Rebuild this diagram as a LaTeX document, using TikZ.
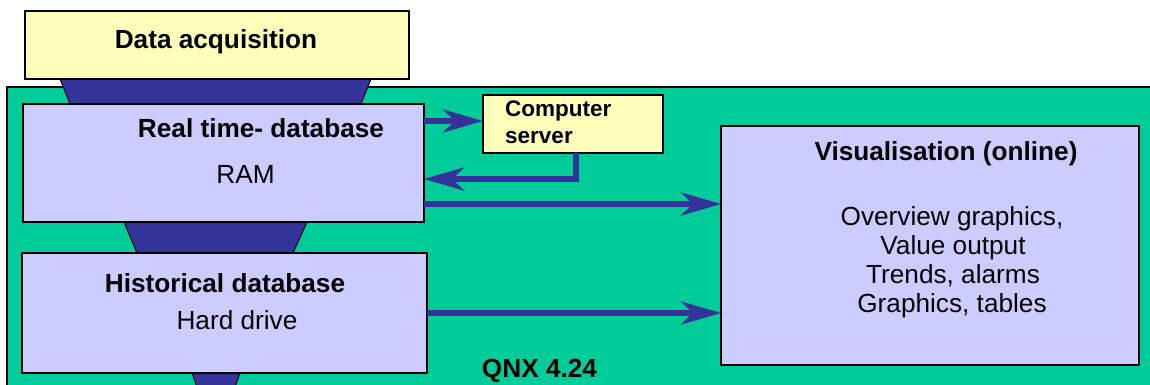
\documentclass[tikz,border=0pt]{standalone}
\usepackage{fontspec}
\setmainfont{Liberation Sans}
\usetikzlibrary{arrows.meta,calc}
\definecolor{qgreen}{HTML}{00CC99}
\definecolor{dblue}{HTML}{333399}
\definecolor{lpurple}{HTML}{CCCCFF}
\definecolor{lyellow}{HTML}{FFFFBB}
\begin{document}
\begin{tikzpicture}[x=1pt,y=-1pt,
  box/.style={draw=black, line width=1.2pt, fill=lpurple, rectangle, inner sep=0pt, outer sep=0pt},
  ybox/.style={draw=black, line width=1.2pt, fill=lyellow, rectangle, inner sep=0pt, outer sep=0pt},
  funnel/.style={fill=dblue, draw=black, line width=1pt},
  arr/.style={draw=dblue, line width=6pt, -{Stealth[length=40pt,width=23pt,inset=12pt]}},
  ttl/.style={font=\fontsize{26.2}{31}\selectfont\bfseries, anchor=base, inner sep=0pt},
  txt/.style={font=\fontsize{26.2}{31}\selectfont, anchor=base, inner sep=0pt},
  stl/.style={font=\fontsize{22.5}{27}\selectfont\bfseries, anchor=base west, inner sep=0pt},
]
\useasboundingbox (0,0) rectangle (1150,385);
\begin{scope}
  \clip (0,0) rectangle (1150,385);
  \fill[qgreen] (7,87) rectangle (1160,395);
  \draw[black, line width=1.2pt] (7,395) -- (7,87) -- (1160,87);
  \draw[funnel] (60,79) -- (371,79) -- (361,104) -- (70,104) -- cycle;
  \draw[funnel] (124,222) -- (307,222) -- (293,253) -- (137,253) -- cycle;
  \draw[funnel] (192,373) -- (240,373) -- (234,390) -- (198,390) -- cycle;
\end{scope}

\node[ybox, minimum width=384pt, minimum height=68pt] (daq) at (217,45) {};
\node[box, minimum width=401pt, minimum height=118pt] (rt) at (223.5,163) {};
\node[box, minimum width=405pt, minimum height=120pt] (hist) at (224.5,313) {};
\node[ybox, minimum width=180pt, minimum height=58pt] (srv) at (573,124) {};
\node[box, minimum width=418pt, minimum height=239pt] (vis) at (930,245.5) {};

\node[ttl] (tdaq) at (216,49) {Data acquisition};
\node[ttl] (trt) at (261,137) {Real time- database};
\node[txt] (tram) at (245.5,183) {RAM};
\node[ttl] (thist) at (225,292) {Historical database};
\node[txt] (thd) at (237,329) {Hard drive};
\node[stl] (tsrv1) at (505,117) {Computer};
\node[stl] (tsrv2) at (505,143) {server};
\node[ttl] (tvis) at (946,160) {Visualisation (online)};
\node[txt] (tv1) at (952,225) {Overview graphics,};
\node[txt] (tv2) at (953,254) {Value output};
\node[txt] (tv3) at (953,283) {Trends, alarms};
\node[txt] (tv4) at (952,312) {Graphics, tables};
\node[ttl] (tqnx) at (539.5,377) {QNX 4.24};

\draw[arr] ($(rt.east)+(0,-42)$) coordinate (a1) -- (a1 -| srv.west);
\draw[arr] ($(srv.south)+(3,0)$) |- ($(rt.east)+(0,16)$);
\draw[arr] ($(rt.east)+(0,41)$) coordinate (a3) -- (a3 -| vis.west);
\draw[arr] (hist.east) -- (hist.east -| vis.west);
\end{tikzpicture}
\end{document}
